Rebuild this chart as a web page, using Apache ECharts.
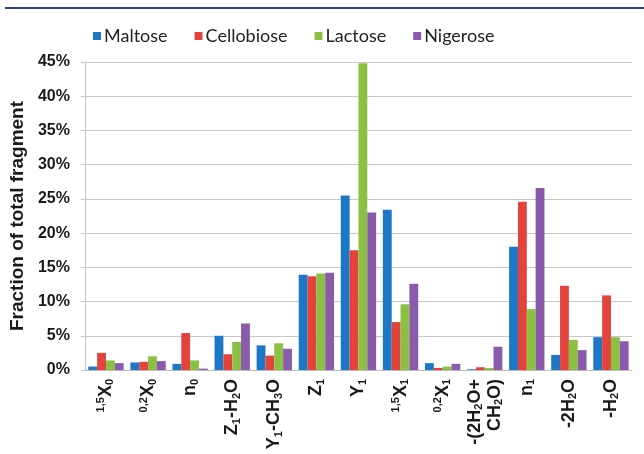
<!DOCTYPE html>
<html><head><meta charset="utf-8">
<script src="https://cdn.jsdelivr.net/npm/echarts@6/dist/echarts.min.js"></script>
<style>html,body{margin:0;padding:0;background:#fff}#c{width:644px;height:454px}</style>
</head><body><div id="c"></div>
<script>
const categories = ['{p|1,5}X{s|0}','{p|0,2}X{s|0}','n{s|0}','Z{s|1}-H{s|2}O','Y{s|1}-CH{s|3}O','Z{s|1}','Y{s|1}','{p|1,5}X{s|1}','{p|0,2}X{s|1}','-(2H{s|2}O+\nCH{s|2}O)','n{s|1}','-2H{s|2}O','-H{s|2}O'];
const seriesNames = ['Maltose','Cellobiose','Lactose','Nigerose'];
const maltose    = [0.5, 1.1, 0.9, 5.0, 3.6, 13.9, 25.5, 23.4, 1.0, 0.1, 18.0, 2.2, 4.8];
const cellobiose = [2.5, 1.2, 5.4, 2.3, 2.1, 13.7, 17.5, 7.0, 0.3, 0.4, 24.6, 12.3, 10.9];
const lactose    = [1.4, 2.0, 1.4, 4.1, 3.9, 14.1, 44.8, 9.6, 0.5, 0.3, 8.9, 4.4, 4.8];
const nigerose   = [1.0, 1.3, 0.2, 6.8, 3.1, 14.2, 23.0, 12.6, 0.9, 3.4, 26.6, 2.9, 4.2];
const yTicks = [0,5,10,15,20,25,30,35,40,45];
const colors = ['#1c77c6','#e2443d','#8cc043','#8b5bab'];
const values = [maltose, cellobiose, lactose, nigerose];

const F = 'Liberation Sans';
const chart = echarts.init(document.getElementById('c'));
chart.setOption({
  animation:false,
  color: colors,
  graphic:[{type:'rect', shape:{x:5,y:7,width:639,height:2}, style:{fill:'#2d3f8e'}}],
  legend:{left:88, top:22, itemWidth:8, itemHeight:8, itemGap:27,
    textStyle:{fontFamily:'Lato', fontSize:18, color:'#222', padding:[0,0,0,-2]},
    data: seriesNames.map(n=>({name:n, icon:'rect'}))},
  grid:{left:84, right:12, top:62, bottom:84},
  xAxis:{type:'category', data:categories,
    axisLine:{lineStyle:{color:'#bbb'}}, axisTick:{show:false},
    axisLabel:{rotate:90, interval:0, margin:9, color:'#1a1a1a',
      fontFamily:F, fontWeight:'bold', fontSize:18, lineHeight:20,
      rich:{
        s:{fontSize:11, fontWeight:'bold', fontFamily:F, verticalAlign:'bottom', lineHeight:10, color:'#1a1a1a'},
        p:{fontSize:11, fontWeight:'bold', fontFamily:F, verticalAlign:'top', lineHeight:14, color:'#1a1a1a'}
      }}},
  yAxis:{type:'value', min:yTicks[0], max:yTicks[yTicks.length-1], interval:5,
    name:'Fraction of total fragment', nameLocation:'middle', nameGap:57,
    nameTextStyle:{fontFamily:F, fontWeight:'bold', fontSize:19, color:'#1a1a1a'},
    axisLine:{show:true, lineStyle:{color:'#c4c4c4'}}, axisTick:{show:true, length:4, lineStyle:{color:'#c4c4c4'}},
    splitLine:{lineStyle:{color:'#c8c8c8'}},
    axisLabel:{formatter:'{value}%', color:'#1a1a1a', fontFamily:F, fontWeight:'bold', fontSize:16, margin:15}},
  series: seriesNames.map((n,i)=>({name:n, type:'bar', data:values[i], barGap:'0%', barCategoryGap:'16%',
    itemStyle:{color:colors[i]}}))
});
</script></body></html>
